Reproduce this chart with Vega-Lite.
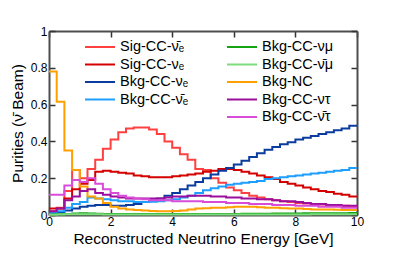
{
  "$schema": "https://vega.github.io/schema/vega-lite/v6.json",
  "width": 308,
  "height": 184,
  "autosize": {"type": "none"},
  "padding": {"left": 49, "top": 31, "right": 50, "bottom": 45},
  "config": {
    "view": {"stroke": null},
    "font": "Liberation Sans",
    "axis": {
      "grid": false,
      "domainColor": "#4d4d4d",
      "domainWidth": 2,
      "tickColor": "#333333",
      "tickWidth": 1.5,
      "tickSize": -6,
      "labelFont": "Liberation Sans",
      "labelFontSize": 12,
      "labelColor": "#000000",
      "labelPadding": 8,
      "labelFlush": false,
      "labelOverlap": false,
      "titleFont": "Liberation Sans",
      "titleFontSize": 15.5,
      "titleFontWeight": "normal",
      "titleColor": "#000000"
    }
  },
  "data": {"values": [
{"s":"a","x":0,"y":0.02},{"s":"a","x":0.25,"y":0.04},{"s":"a","x":0.5,"y":0.13},{"s":"a","x":0.75,"y":0.245},{"s":"a","x":1,"y":0.2},{"s":"a","x":1.25,"y":0.25},{"s":"a","x":1.5,"y":0.3},{"s":"a","x":1.75,"y":0.36},{"s":"a","x":2,"y":0.41},{"s":"a","x":2.25,"y":0.45},{"s":"a","x":2.5,"y":0.47},{"s":"a","x":2.75,"y":0.475},{"s":"a","x":3,"y":0.475},{"s":"a","x":3.25,"y":0.465},{"s":"a","x":3.5,"y":0.44},{"s":"a","x":3.75,"y":0.4},{"s":"a","x":4,"y":0.365},{"s":"a","x":4.25,"y":0.33},{"s":"a","x":4.5,"y":0.3},{"s":"a","x":4.75,"y":0.25},{"s":"a","x":5,"y":0.245},{"s":"a","x":5.25,"y":0.2},{"s":"a","x":5.5,"y":0.175},{"s":"a","x":5.75,"y":0.15},{"s":"a","x":6,"y":0.135},{"s":"a","x":6.25,"y":0.12},{"s":"a","x":6.5,"y":0.105},{"s":"a","x":6.75,"y":0.095},{"s":"a","x":7,"y":0.085},{"s":"a","x":7.25,"y":0.08},{"s":"a","x":7.5,"y":0.075},{"s":"a","x":7.75,"y":0.07},{"s":"a","x":8,"y":0.065},{"s":"a","x":8.25,"y":0.062},{"s":"a","x":8.5,"y":0.06},{"s":"a","x":8.75,"y":0.057},{"s":"a","x":9,"y":0.055},{"s":"a","x":9.25,"y":0.052},{"s":"a","x":9.5,"y":0.05},{"s":"a","x":9.75,"y":0.048},{"s":"a","x":10,"y":0.048},
{"s":"b","x":0,"y":0.035},{"s":"b","x":0.25,"y":0.035},{"s":"b","x":0.5,"y":0.09},{"s":"b","x":0.75,"y":0.14},{"s":"b","x":1,"y":0.17},{"s":"b","x":1.25,"y":0.19},{"s":"b","x":1.5,"y":0.235},{"s":"b","x":1.75,"y":0.24},{"s":"b","x":2,"y":0.235},{"s":"b","x":2.25,"y":0.23},{"s":"b","x":2.5,"y":0.225},{"s":"b","x":2.75,"y":0.215},{"s":"b","x":3,"y":0.21},{"s":"b","x":3.25,"y":0.205},{"s":"b","x":3.5,"y":0.205},{"s":"b","x":3.75,"y":0.205},{"s":"b","x":4,"y":0.21},{"s":"b","x":4.25,"y":0.215},{"s":"b","x":4.5,"y":0.22},{"s":"b","x":4.75,"y":0.225},{"s":"b","x":5,"y":0.235},{"s":"b","x":5.25,"y":0.24},{"s":"b","x":5.5,"y":0.25},{"s":"b","x":5.75,"y":0.25},{"s":"b","x":6,"y":0.245},{"s":"b","x":6.25,"y":0.235},{"s":"b","x":6.5,"y":0.225},{"s":"b","x":6.75,"y":0.215},{"s":"b","x":7,"y":0.205},{"s":"b","x":7.25,"y":0.195},{"s":"b","x":7.5,"y":0.18},{"s":"b","x":7.75,"y":0.17},{"s":"b","x":8,"y":0.16},{"s":"b","x":8.25,"y":0.15},{"s":"b","x":8.5,"y":0.14},{"s":"b","x":8.75,"y":0.13},{"s":"b","x":9,"y":0.125},{"s":"b","x":9.25,"y":0.115},{"s":"b","x":9.5,"y":0.11},{"s":"b","x":9.75,"y":0.1},{"s":"b","x":10,"y":0.1},
{"s":"c","x":0,"y":0.01},{"s":"c","x":0.25,"y":0.015},{"s":"c","x":0.5,"y":0.025},{"s":"c","x":0.75,"y":0.035},{"s":"c","x":1,"y":0.045},{"s":"c","x":1.25,"y":0.05},{"s":"c","x":1.5,"y":0.055},{"s":"c","x":1.75,"y":0.055},{"s":"c","x":2,"y":0.05},{"s":"c","x":2.25,"y":0.05},{"s":"c","x":2.5,"y":0.055},{"s":"c","x":2.75,"y":0.06},{"s":"c","x":3,"y":0.07},{"s":"c","x":3.25,"y":0.08},{"s":"c","x":3.5,"y":0.09},{"s":"c","x":3.75,"y":0.105},{"s":"c","x":4,"y":0.12},{"s":"c","x":4.25,"y":0.14},{"s":"c","x":4.5,"y":0.16},{"s":"c","x":4.75,"y":0.18},{"s":"c","x":5,"y":0.2},{"s":"c","x":5.25,"y":0.22},{"s":"c","x":5.5,"y":0.24},{"s":"c","x":5.75,"y":0.255},{"s":"c","x":6,"y":0.275},{"s":"c","x":6.25,"y":0.295},{"s":"c","x":6.5,"y":0.315},{"s":"c","x":6.75,"y":0.335},{"s":"c","x":7,"y":0.355},{"s":"c","x":7.25,"y":0.37},{"s":"c","x":7.5,"y":0.385},{"s":"c","x":7.75,"y":0.395},{"s":"c","x":8,"y":0.41},{"s":"c","x":8.25,"y":0.42},{"s":"c","x":8.5,"y":0.43},{"s":"c","x":8.75,"y":0.44},{"s":"c","x":9,"y":0.45},{"s":"c","x":9.25,"y":0.46},{"s":"c","x":9.5,"y":0.47},{"s":"c","x":9.75,"y":0.485},{"s":"c","x":10,"y":0.485},
{"s":"d","x":0,"y":0.01},{"s":"d","x":0.25,"y":0.02},{"s":"d","x":0.5,"y":0.04},{"s":"d","x":0.75,"y":0.06},{"s":"d","x":1,"y":0.07},{"s":"d","x":1.25,"y":0.095},{"s":"d","x":1.5,"y":0.09},{"s":"d","x":1.75,"y":0.085},{"s":"d","x":2,"y":0.08},{"s":"d","x":2.25,"y":0.075},{"s":"d","x":2.5,"y":0.075},{"s":"d","x":2.75,"y":0.07},{"s":"d","x":3,"y":0.07},{"s":"d","x":3.25,"y":0.072},{"s":"d","x":3.5,"y":0.075},{"s":"d","x":3.75,"y":0.08},{"s":"d","x":4,"y":0.085},{"s":"d","x":4.25,"y":0.095},{"s":"d","x":4.5,"y":0.105},{"s":"d","x":4.75,"y":0.12},{"s":"d","x":5,"y":0.135},{"s":"d","x":5.25,"y":0.145},{"s":"d","x":5.5,"y":0.155},{"s":"d","x":5.75,"y":0.165},{"s":"d","x":6,"y":0.17},{"s":"d","x":6.25,"y":0.175},{"s":"d","x":6.5,"y":0.18},{"s":"d","x":6.75,"y":0.185},{"s":"d","x":7,"y":0.195},{"s":"d","x":7.25,"y":0.2},{"s":"d","x":7.5,"y":0.205},{"s":"d","x":7.75,"y":0.21},{"s":"d","x":8,"y":0.215},{"s":"d","x":8.25,"y":0.22},{"s":"d","x":8.5,"y":0.225},{"s":"d","x":8.75,"y":0.23},{"s":"d","x":9,"y":0.235},{"s":"d","x":9.25,"y":0.24},{"s":"d","x":9.5,"y":0.245},{"s":"d","x":9.75,"y":0.255},{"s":"d","x":10,"y":0.255},
{"s":"e","x":0,"y":0.003},{"s":"e","x":0.25,"y":0.004},{"s":"e","x":0.5,"y":0.006},{"s":"e","x":0.75,"y":0.008},{"s":"e","x":1,"y":0.009},{"s":"e","x":1.25,"y":0.008},{"s":"e","x":1.5,"y":0.007},{"s":"e","x":1.75,"y":0.006},{"s":"e","x":2,"y":0.005},{"s":"e","x":2.25,"y":0.005},{"s":"e","x":2.5,"y":0.005},{"s":"e","x":2.75,"y":0.005},{"s":"e","x":3,"y":0.005},{"s":"e","x":3.25,"y":0.005},{"s":"e","x":3.5,"y":0.005},{"s":"e","x":3.75,"y":0.005},{"s":"e","x":4,"y":0.005},{"s":"e","x":4.25,"y":0.005},{"s":"e","x":4.5,"y":0.005},{"s":"e","x":4.75,"y":0.005},{"s":"e","x":5,"y":0.005},{"s":"e","x":5.25,"y":0.006},{"s":"e","x":5.5,"y":0.006},{"s":"e","x":5.75,"y":0.006},{"s":"e","x":6,"y":0.006},{"s":"e","x":6.25,"y":0.007},{"s":"e","x":6.5,"y":0.007},{"s":"e","x":6.75,"y":0.007},{"s":"e","x":7,"y":0.007},{"s":"e","x":7.25,"y":0.008},{"s":"e","x":7.5,"y":0.008},{"s":"e","x":7.75,"y":0.008},{"s":"e","x":8,"y":0.008},{"s":"e","x":8.25,"y":0.009},{"s":"e","x":8.5,"y":0.009},{"s":"e","x":8.75,"y":0.009},{"s":"e","x":9,"y":0.01},{"s":"e","x":9.25,"y":0.01},{"s":"e","x":9.5,"y":0.01},{"s":"e","x":9.75,"y":0.011},{"s":"e","x":10,"y":0.011},
{"s":"f","x":0,"y":0.002},{"s":"f","x":0.25,"y":0.003},{"s":"f","x":0.5,"y":0.004},{"s":"f","x":0.75,"y":0.004},{"s":"f","x":1,"y":0.004},{"s":"f","x":1.25,"y":0.004},{"s":"f","x":1.5,"y":0.004},{"s":"f","x":1.75,"y":0.003},{"s":"f","x":2,"y":0.003},{"s":"f","x":2.25,"y":0.003},{"s":"f","x":2.5,"y":0.003},{"s":"f","x":2.75,"y":0.003},{"s":"f","x":3,"y":0.003},{"s":"f","x":3.25,"y":0.003},{"s":"f","x":3.5,"y":0.003},{"s":"f","x":3.75,"y":0.003},{"s":"f","x":4,"y":0.003},{"s":"f","x":4.25,"y":0.003},{"s":"f","x":4.5,"y":0.003},{"s":"f","x":4.75,"y":0.003},{"s":"f","x":5,"y":0.003},{"s":"f","x":5.25,"y":0.003},{"s":"f","x":5.5,"y":0.003},{"s":"f","x":5.75,"y":0.003},{"s":"f","x":6,"y":0.003},{"s":"f","x":6.25,"y":0.003},{"s":"f","x":6.5,"y":0.003},{"s":"f","x":6.75,"y":0.003},{"s":"f","x":7,"y":0.003},{"s":"f","x":7.25,"y":0.003},{"s":"f","x":7.5,"y":0.003},{"s":"f","x":7.75,"y":0.003},{"s":"f","x":8,"y":0.003},{"s":"f","x":8.25,"y":0.003},{"s":"f","x":8.5,"y":0.004},{"s":"f","x":8.75,"y":0.004},{"s":"f","x":9,"y":0.004},{"s":"f","x":9.25,"y":0.004},{"s":"f","x":9.5,"y":0.004},{"s":"f","x":9.75,"y":0.004},{"s":"f","x":10,"y":0.004},
{"s":"g","x":0,"y":0.78},{"s":"g","x":0.25,"y":0.615},{"s":"g","x":0.5,"y":0.35},{"s":"g","x":0.75,"y":0.245},{"s":"g","x":1,"y":0.155},{"s":"g","x":1.25,"y":0.1},{"s":"g","x":1.5,"y":0.09},{"s":"g","x":1.75,"y":0.065},{"s":"g","x":2,"y":0.045},{"s":"g","x":2.25,"y":0.035},{"s":"g","x":2.5,"y":0.03},{"s":"g","x":2.75,"y":0.027},{"s":"g","x":3,"y":0.025},{"s":"g","x":3.25,"y":0.022},{"s":"g","x":3.5,"y":0.02},{"s":"g","x":3.75,"y":0.02},{"s":"g","x":4,"y":0.022},{"s":"g","x":4.25,"y":0.025},{"s":"g","x":4.5,"y":0.03},{"s":"g","x":4.75,"y":0.035},{"s":"g","x":5,"y":0.037},{"s":"g","x":5.25,"y":0.04},{"s":"g","x":5.5,"y":0.04},{"s":"g","x":5.75,"y":0.042},{"s":"g","x":6,"y":0.045},{"s":"g","x":6.25,"y":0.045},{"s":"g","x":6.5,"y":0.045},{"s":"g","x":6.75,"y":0.042},{"s":"g","x":7,"y":0.04},{"s":"g","x":7.25,"y":0.04},{"s":"g","x":7.5,"y":0.037},{"s":"g","x":7.75,"y":0.035},{"s":"g","x":8,"y":0.035},{"s":"g","x":8.25,"y":0.032},{"s":"g","x":8.5,"y":0.03},{"s":"g","x":8.75,"y":0.03},{"s":"g","x":9,"y":0.03},{"s":"g","x":9.25,"y":0.028},{"s":"g","x":9.5,"y":0.027},{"s":"g","x":9.75,"y":0.027},{"s":"g","x":10,"y":0.027},
{"s":"h","x":0,"y":0.02},{"s":"h","x":0.25,"y":0.035},{"s":"h","x":0.5,"y":0.08},{"s":"h","x":0.75,"y":0.1},{"s":"h","x":1,"y":0.13},{"s":"h","x":1.25,"y":0.14},{"s":"h","x":1.5,"y":0.12},{"s":"h","x":1.75,"y":0.11},{"s":"h","x":2,"y":0.1},{"s":"h","x":2.25,"y":0.095},{"s":"h","x":2.5,"y":0.09},{"s":"h","x":2.75,"y":0.09},{"s":"h","x":3,"y":0.09},{"s":"h","x":3.25,"y":0.09},{"s":"h","x":3.5,"y":0.09},{"s":"h","x":3.75,"y":0.095},{"s":"h","x":4,"y":0.1},{"s":"h","x":4.25,"y":0.1},{"s":"h","x":4.5,"y":0.105},{"s":"h","x":4.75,"y":0.105},{"s":"h","x":5,"y":0.105},{"s":"h","x":5.25,"y":0.1},{"s":"h","x":5.5,"y":0.1},{"s":"h","x":5.75,"y":0.095},{"s":"h","x":6,"y":0.095},{"s":"h","x":6.25,"y":0.09},{"s":"h","x":6.5,"y":0.09},{"s":"h","x":6.75,"y":0.085},{"s":"h","x":7,"y":0.085},{"s":"h","x":7.25,"y":0.08},{"s":"h","x":7.5,"y":0.075},{"s":"h","x":7.75,"y":0.075},{"s":"h","x":8,"y":0.07},{"s":"h","x":8.25,"y":0.065},{"s":"h","x":8.5,"y":0.06},{"s":"h","x":8.75,"y":0.06},{"s":"h","x":9,"y":0.055},{"s":"h","x":9.25,"y":0.055},{"s":"h","x":9.5,"y":0.05},{"s":"h","x":9.75,"y":0.05},{"s":"h","x":10,"y":0.05},
{"s":"i","x":0,"y":0.11},{"s":"i","x":0.25,"y":0.11},{"s":"i","x":0.5,"y":0.16},{"s":"i","x":0.75,"y":0.19},{"s":"i","x":1,"y":0.18},{"s":"i","x":1.25,"y":0.2},{"s":"i","x":1.5,"y":0.17},{"s":"i","x":1.75,"y":0.14},{"s":"i","x":2,"y":0.12},{"s":"i","x":2.25,"y":0.105},{"s":"i","x":2.5,"y":0.095},{"s":"i","x":2.75,"y":0.09},{"s":"i","x":3,"y":0.085},{"s":"i","x":3.25,"y":0.08},{"s":"i","x":3.5,"y":0.08},{"s":"i","x":3.75,"y":0.08},{"s":"i","x":4,"y":0.075},{"s":"i","x":4.25,"y":0.075},{"s":"i","x":4.5,"y":0.075},{"s":"i","x":4.75,"y":0.075},{"s":"i","x":5,"y":0.07},{"s":"i","x":5.25,"y":0.07},{"s":"i","x":5.5,"y":0.07},{"s":"i","x":5.75,"y":0.065},{"s":"i","x":6,"y":0.065},{"s":"i","x":6.25,"y":0.065},{"s":"i","x":6.5,"y":0.06},{"s":"i","x":6.75,"y":0.06},{"s":"i","x":7,"y":0.06},{"s":"i","x":7.25,"y":0.055},{"s":"i","x":7.5,"y":0.055},{"s":"i","x":7.75,"y":0.055},{"s":"i","x":8,"y":0.05},{"s":"i","x":8.25,"y":0.05},{"s":"i","x":8.5,"y":0.05},{"s":"i","x":8.75,"y":0.045},{"s":"i","x":9,"y":0.045},{"s":"i","x":9.25,"y":0.045},{"s":"i","x":9.5,"y":0.04},{"s":"i","x":9.75,"y":0.04},{"s":"i","x":10,"y":0.04}
  ]},
  "layer": [
    {
      "transform": [{"filter": {"field": "s", "oneOf": ["a", "b", "c", "d"]}}],
      "mark": {"type": "line", "interpolate": "step-after", "strokeWidth": 2},
      "encoding": {
        "x": {"field": "x", "type": "quantitative", "scale": {"domain": [0, 10], "nice": false},
              "axis": {"orient": "bottom", "values": [0, 2, 4, 6, 8, 10], "title": "Reconstructed Neutrino Energy [GeV]", "labelPadding": 7, "titlePadding": 4}},
        "y": {"field": "y", "type": "quantitative", "scale": {"domain": [0, 1], "nice": false},
              "axis": {"orient": "left", "values": [0, 0.2, 0.4, 0.6, 0.8, 1], "format": "~g", "title": "Purities (ν̄ Beam)", "titlePadding": 5}},
        "color": {"field": "s", "type": "nominal",
                  "scale": {"domain": ["a", "b", "c", "d"], "range": ["#ff4040", "#d40000", "#0a3ca0", "#1e9fff"]},
                  "legend": {"orient": "none", "legendX": 35, "legendY": 8.5, "title": null, "padding": 0,
                             "symbolType": "stroke", "symbolSize": 900, "symbolStrokeWidth": 2, "clipHeight": 15, "rowPadding": 1.5,
                             "labelOffset": 4, "labelFontSize": 14.5, "labelFont": "Liberation Sans", "labelColor": "#000000", "labelLimit": 200,
                             "labelExpr": "datum.label == 'a' ? 'Sig-CC-ν̄ₑ' : datum.label == 'b' ? 'Sig-CC-νₑ' : datum.label == 'c' ? 'Bkg-CC-νₑ' : 'Bkg-CC-ν̄ₑ'"}}
      }
    },
    {
      "transform": [{"filter": {"field": "s", "oneOf": ["e", "f", "g", "h", "i"]}}],
      "mark": {"type": "line", "interpolate": "step-after", "strokeWidth": 2},
      "encoding": {
        "x": {"field": "x", "type": "quantitative", "scale": {"domain": [0, 10], "nice": false},
              "axis": {"orient": "top", "values": [0, 2, 4, 6, 8, 10], "labels": false, "title": null}},
        "y": {"field": "y", "type": "quantitative", "scale": {"domain": [0, 1], "nice": false},
              "axis": {"orient": "right", "values": [0, 0.2, 0.4, 0.6, 0.8, 1], "labels": false, "title": null}},
        "color": {"field": "s", "type": "nominal",
                  "scale": {"domain": ["e", "f", "g", "h", "i"], "range": ["#13a313", "#7ddc7d", "#ffa000", "#9c0f9c", "#d94cd9"]},
                  "legend": {"orient": "none", "legendX": 177, "legendY": 8.5, "title": null, "padding": 0,
                             "symbolType": "stroke", "symbolSize": 900, "symbolStrokeWidth": 2, "clipHeight": 15, "rowPadding": 1.5,
                             "labelOffset": 4, "labelFontSize": 14.5, "labelFont": "Liberation Sans", "labelColor": "#000000", "labelLimit": 200,
                             "labelExpr": "datum.label == 'e' ? 'Bkg-CC-νμ' : datum.label == 'f' ? 'Bkg-CC-ν̄μ' : datum.label == 'g' ? 'Bkg-NC' : datum.label == 'h' ? 'Bkg-CC-ντ' : 'Bkg-CC-ν̄τ'"}}
      }
    }
  ],
  "resolve": {"scale": {"color": "independent"}, "axis": {"x": "independent", "y": "independent"}}
}
